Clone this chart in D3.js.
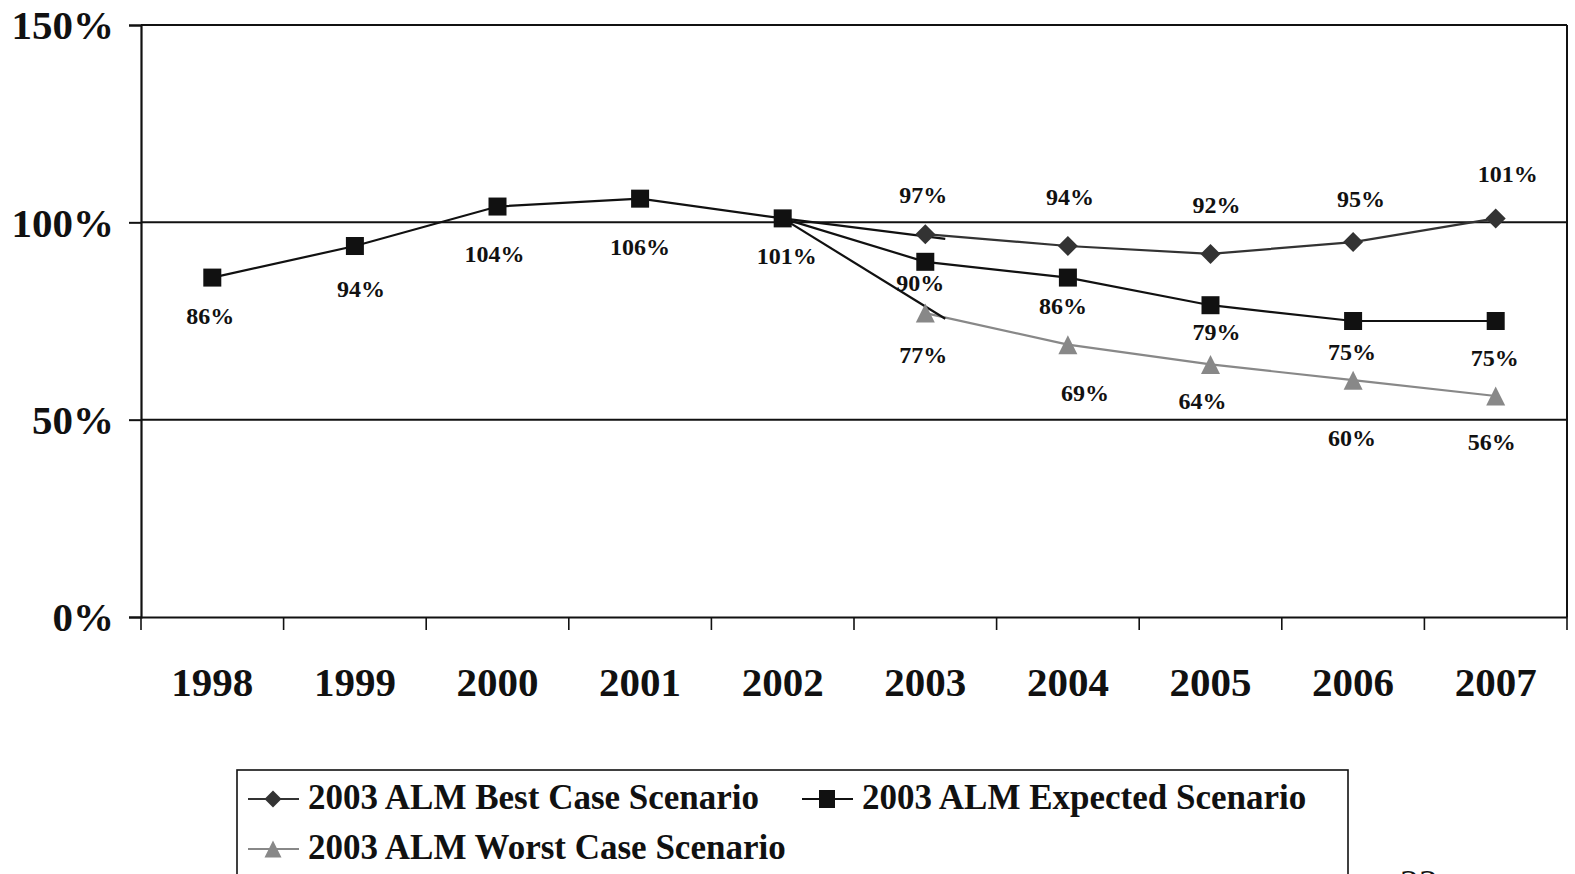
<!DOCTYPE html>
<html>
<head>
<meta charset="utf-8">
<script src="https://cdn.jsdelivr.net/npm/d3@7"></script>
<style>
  html, body { margin: 0; padding: 0; background: #fff; }
  svg { display: block; }
  text { font-family: "Liberation Serif", "DejaVu Serif", serif; }
</style>
</head>
<body>
<svg id="chart" width="1575" height="874"></svg>
<script>
// Funded ratio by year under the three 2003 ALM scenarios
const years = ["1998", "1999", "2000", "2001", "2002", "2003", "2004", "2005", "2006", "2007"];
const expectedValues = [0.86, 0.94, 1.04, 1.06, 1.01, 0.90, 0.86, 0.79, 0.75, 0.75];
const bestYears = ["2003", "2004", "2005", "2006", "2007"];
const bestValues = [0.97, 0.94, 0.92, 0.95, 1.01];
const worstYears = ["2003", "2004", "2005", "2006", "2007"];
const worstValues = [0.77, 0.69, 0.64, 0.60, 0.56];
const yTicks = [0, 0.5, 1.0, 1.5];
const legendNames = ["2003 ALM Best Case Scenario", "2003 ALM Expected Scenario", "2003 ALM Worst Case Scenario"];

// hand-placed label nudges (dx, dy from the marker centre)
const expectedLabelNudge = [[-2, 38], [6, 43], [-3, 47], [0, 48], [4, 37], [-5, 21], [-5, 28], [6, 27], [-1, 31], [-1, 37]];
const bestLabelNudge = [[-2, -39], [2, -49], [6, -49], [8, -43], [12, -45]];
const worstLabelNudge = [[-2, 42], [17, 48], [-8, 36], [-1, 58], [-4, 46]];

const svg = d3.select("#chart");
const plotLeft = 141, plotRight = 1567, plotTop = 25, plotBottom = 617;

const x = d3.scaleBand().domain(years).range([plotLeft, plotRight]).paddingInner(0).paddingOuter(0);
const cx = d => x(d) + x.bandwidth() / 2;
const y = d3.scaleLinear().domain([0, 1.5]).range([plotBottom, plotTop]);
const pct = d3.format(".0%");

// marker shapes
const diamondPath = r => `M0,${-r}L${r},0L0,${r}L${-r},0Z`;
const trianglePath = (w, h) => `M0,${-h / 2}L${w / 2},${h / 2}L${-w / 2},${h / 2}Z`;

// gridlines at 50% and 100%, frame at top and right
svg.append("g").selectAll("line").data([0.5, 1.0, 1.5]).join("line")
  .attr("x1", plotLeft).attr("x2", plotRight).attr("y1", d => y(d)).attr("y2", d => y(d))
  .attr("stroke", "#111").attr("stroke-width", 2);
svg.append("line").attr("x1", plotRight).attr("x2", plotRight).attr("y1", plotTop).attr("y2", plotBottom)
  .attr("stroke", "#111").attr("stroke-width", 2);

// y axis
const yAxis = svg.append("g").attr("transform", `translate(${plotLeft},0)`)
  .call(d3.axisLeft(y).tickValues(yTicks).tickFormat(pct).tickSize(12).tickPadding(15));
yAxis.select(".domain").attr("stroke", "#111").attr("stroke-width", 2.2);
yAxis.selectAll(".tick line").attr("stroke", "#111").attr("stroke-width", 2);
yAxis.selectAll(".tick text").attr("font-size", 41).attr("font-weight", "bold")
  .attr("fill", "#111").attr("dy", "0.34em")
  .style("font-family", '"Liberation Serif", serif');

// x axis with ticks at category boundaries
const xAxis = svg.append("g").attr("transform", `translate(0,${plotBottom})`)
  .call(d3.axisBottom(x).tickSize(0).tickPadding(50));
xAxis.select(".domain").attr("stroke", "#111").attr("stroke-width", 2.2);
xAxis.selectAll(".tick text").attr("font-size", 41).attr("font-weight", "bold")
  .attr("fill", "#111").style("font-family", '"Liberation Serif", serif');
const boundaries = years.map(d => x(d)).concat([plotRight]);
svg.append("g").selectAll("line").data(boundaries).join("line")
  .attr("x1", d => d).attr("x2", d => d).attr("y1", plotBottom).attr("y2", plotBottom + 13)
  .attr("stroke", "#111").attr("stroke-width", 1.6);

const line = d3.line().x(d => cx(d.year)).y(d => y(d.value));
const expected = years.map((yr, i) => ({ year: yr, value: expectedValues[i] }));
const best = bestYears.map((yr, i) => ({ year: yr, value: bestValues[i] }));
const worst = worstYears.map((yr, i) => ({ year: yr, value: worstValues[i] }));

// scenario lines
svg.append("path").datum(best).attr("d", line).attr("fill", "none")
  .attr("stroke", "#333").attr("stroke-width", 2.2);
svg.append("path").datum(worst).attr("d", line).attr("fill", "none")
  .attr("stroke", "#888").attr("stroke-width", 2.2);

// branch connectors from the 2002 actual, running just past the first projected year
const origin = expected[years.indexOf(bestYears[0]) - 1];
[[best[0], 1.3], [worst[0], 1.06]].forEach(([p, yExt]) => {
  const x0 = cx(origin.year), y0 = y(origin.value);
  const x1 = cx(p.year), y1 = y(p.value);
  svg.append("line").attr("x1", x0).attr("y1", y0)
    .attr("x2", x0 + (x1 - x0) * 1.14).attr("y2", y0 + (y1 - y0) * yExt)
    .attr("stroke", "#111").attr("stroke-width", 2.2);
});

svg.append("path").datum(expected).attr("d", line).attr("fill", "none")
  .attr("stroke", "#111").attr("stroke-width", 2.2);

// markers
svg.append("g").selectAll("path").data(best).join("path")
  .attr("d", diamondPath(10)).attr("transform", d => `translate(${cx(d.year)},${y(d.value)})`)
  .attr("fill", "#333");
svg.append("g").selectAll("path").data(worst).join("path")
  .attr("d", trianglePath(19, 19)).attr("transform", d => `translate(${cx(d.year)},${y(d.value)})`)
  .attr("fill", "#888");
svg.append("g").selectAll("rect").data(expected).join("rect")
  .attr("x", d => cx(d.year) - 9).attr("y", d => y(d.value) - 9)
  .attr("width", 18).attr("height", 18).attr("fill", "#111");

// value labels
function labels(data, nudges) {
  svg.append("g").selectAll("text").data(data).join("text")
    .attr("x", (d, i) => cx(d.year) + nudges[i][0])
    .attr("y", (d, i) => y(d.value) + nudges[i][1])
    .attr("dy", "0.34em").attr("text-anchor", "middle")
    .attr("font-size", 24).attr("font-weight", "bold").attr("fill", "#111")
    .text(d => pct(d.value));
}
labels(expected, expectedLabelNudge);
labels(best, bestLabelNudge);
labels(worst, worstLabelNudge);

// legend
const legend = svg.append("g");
legend.append("rect").attr("x", 237).attr("y", 770).attr("width", 1111).attr("height", 140)
  .attr("fill", "#fff").attr("stroke", "#111").attr("stroke-width", 1.6);
const items = [
  { name: legendNames[0], color: "#333", shape: "diamond", lx: 248, row: 0 },
  { name: legendNames[1], color: "#111", shape: "square", lx: 802, row: 0 },
  { name: legendNames[2], color: "#888", shape: "triangle", lx: 248, row: 1 }
];
items.forEach(it => {
  const yy = 799 + it.row * 50;
  const mx = it.lx + 25;
  const g = legend.append("g");
  g.append("line").attr("x1", it.lx).attr("x2", it.lx + 51).attr("y1", yy).attr("y2", yy)
    .attr("stroke", it.color).attr("stroke-width", 2);
  if (it.shape === "diamond") {
    g.append("path").attr("d", diamondPath(8.5))
      .attr("transform", `translate(${mx},${yy})`).attr("fill", it.color);
  } else if (it.shape === "triangle") {
    g.append("path").attr("d", trianglePath(17, 17))
      .attr("transform", `translate(${mx},${yy})`).attr("fill", it.color);
  } else {
    g.append("rect").attr("x", mx - 8).attr("y", yy - 9).attr("width", 16).attr("height", 18)
      .attr("fill", it.color);
  }
  g.append("text").attr("x", it.lx + 60).attr("y", yy + 10)
    .attr("font-size", 35).attr("font-weight", "bold").attr("fill", "#111")
    .text(it.name);
});

// page number
svg.append("text").attr("x", 1400).attr("y", 896).attr("font-size", 38).attr("fill", "#111").text("22");
</script>
</body>
</html>
